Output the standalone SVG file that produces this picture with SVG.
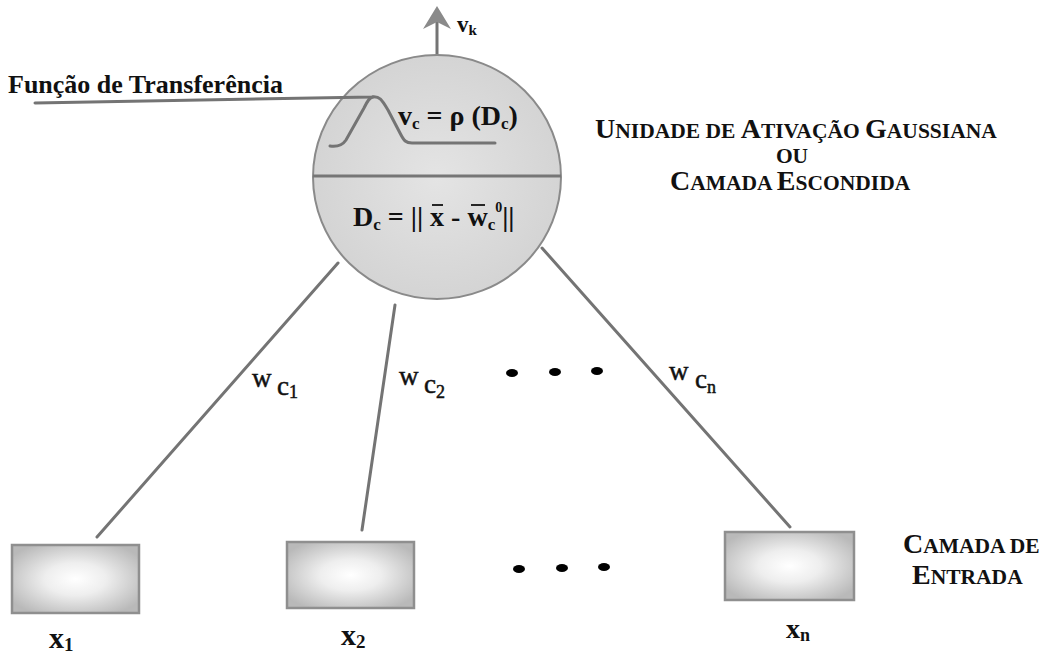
<svg xmlns="http://www.w3.org/2000/svg" width="1046" height="655" viewBox="0 0 1046 655">
<defs>
  <radialGradient id="boxfill" cx="0.5" cy="0.5" r="0.6">
    <stop offset="0" stop-color="#ffffff"/>
    <stop offset="0.4" stop-color="#eeeeee"/>
    <stop offset="1" stop-color="#b9b9b9"/>
  </radialGradient>
  <radialGradient id="ballfill" cx="0.5" cy="0.5" r="0.5">
    <stop offset="0" stop-color="#e4e4e4"/>
    <stop offset="1" stop-color="#d4d4d4"/>
  </radialGradient>
</defs>
<style>
  .t { font-family: "Liberation Serif", "Times New Roman", serif; fill: #111; }
  .b { font-weight: bold; }
  .w { stroke: #111; stroke-width: 0.5; }
  .line { stroke: #747474; stroke-width: 3; fill: none; stroke-linecap: round; }
  .box { fill: url(#boxfill); stroke: #8f8f8f; stroke-width: 2.5; }
  .dot { fill: #000; }
  .bar { stroke: #111; stroke-width: 1.8; }
</style>
<rect width="1046" height="655" fill="#ffffff"/>

<g id="connectors">
  <line class="line" x1="338" y1="263" x2="97" y2="537"/>
  <line class="line" x1="395" y1="305" x2="362" y2="530"/>
  <line class="line" x1="542" y1="248" x2="790" y2="527"/>
  <line class="line" x1="437" y1="54" x2="437" y2="22"/>
  <path d="M437 6 L423 29 L437 22 L451 29 Z" fill="#8a8a8a"/>
  <text class="t b" x="457" y="32" font-size="23">v<tspan font-size="15" dy="3">k</tspan></text>
  <text class="t w" font-size="27"><tspan x="252" y="387">w</tspan><tspan x="277" y="395">c</tspan><tspan x="289" y="398" font-size="18">1</tspan></text>
  <text class="t w" font-size="27"><tspan x="399" y="385">w</tspan><tspan x="424" y="393">c</tspan><tspan x="436" y="398" font-size="18">2</tspan></text>
  <text class="t w" font-size="27"><tspan x="669" y="380">w</tspan><tspan x="695" y="388">c</tspan><tspan x="707" y="393" font-size="18">n</tspan></text>
</g>

<g id="hidden-unit">
  <ellipse cx="437" cy="177" rx="124" ry="122" fill="url(#ballfill)" stroke="#8a8a8a" stroke-width="2"/>
  <line x1="313" y1="176" x2="561" y2="176" stroke="#767676" stroke-width="3"/>
  <text class="t b" x="398" y="125" font-size="28">v<tspan font-size="17" dy="4">c</tspan><tspan dy="-4"> = ρ (D</tspan><tspan font-size="17" dy="4">c</tspan><tspan dy="-4">)</tspan></text>
  <text class="t b" x="353" y="226" font-size="28">D<tspan font-size="17" dy="4">c</tspan><tspan dy="-4"> = || x - w</tspan><tspan font-size="17" dy="4">c</tspan><tspan font-size="14" dy="-18">0</tspan><tspan dy="14">||</tspan></text>
  <line class="bar" x1="432" y1="205" x2="443" y2="205"/>
  <line class="bar" x1="471" y1="205" x2="485" y2="205"/>
</g>

<g id="transfer-function">
  <text class="t b" x="8" y="93" font-size="26">Função de Transferência</text>
  <path class="line" d="M35 103 L372 97 C 380 96, 382 100, 388 110 L 400 133 C 404 141, 406 143, 412 143 L 495 143"/>
  <path class="line" d="M330 146 C 337 147, 342 146, 346 140 L 364 108 C 368 100, 370 97, 373 97"/>
</g>

<g id="hidden-label">
  <text class="t b" x="595" y="138" font-size="21.5"><tspan font-size="28">U</tspan>NIDADE DE <tspan font-size="28">A</tspan>TIVAÇÃO <tspan font-size="28">G</tspan>AUSSIANA</text>
  <text class="t b" x="792" y="163" font-size="21.5" text-anchor="middle">OU</text>
  <text class="t b" x="670" y="190" font-size="21.5"><tspan font-size="28">C</tspan>AMADA <tspan font-size="28">E</tspan>SCONDIDA</text>
</g>

<g id="input-x1">
  <rect class="box" x="12" y="545" width="127" height="68"/>
  <text class="t b" x="49" y="648" font-size="30">x<tspan font-size="19" dy="3">1</tspan></text>
</g>
<g id="input-x2">
  <rect class="box" x="287" y="542" width="127" height="66"/>
  <text class="t b" x="341" y="645" font-size="30">x<tspan font-size="19" dy="3">2</tspan></text>
</g>
<g id="input-xn">
  <rect class="box" x="725" y="532" width="129" height="68"/>
  <text class="t b" x="786" y="638" font-size="28">x<tspan font-size="18" dy="3">n</tspan></text>
</g>

<g id="dots">
  <ellipse class="dot" cx="512" cy="373" rx="6" ry="4"/>
  <ellipse class="dot" cx="555" cy="372" rx="6" ry="4"/>
  <ellipse class="dot" cx="597" cy="371" rx="6" ry="4"/>
  <ellipse class="dot" cx="519" cy="569" rx="6" ry="4"/>
  <ellipse class="dot" cx="562" cy="568" rx="6" ry="4"/>
  <ellipse class="dot" cx="604" cy="567" rx="6" ry="4"/>
</g>

<g id="input-label">
  <text class="t b" x="903" y="553" font-size="21.5"><tspan font-size="28">C</tspan>AMADA DE</text>
  <text class="t b" x="912" y="584" font-size="21.5"><tspan font-size="28">E</tspan>NTRADA</text>
</g>
</svg>
